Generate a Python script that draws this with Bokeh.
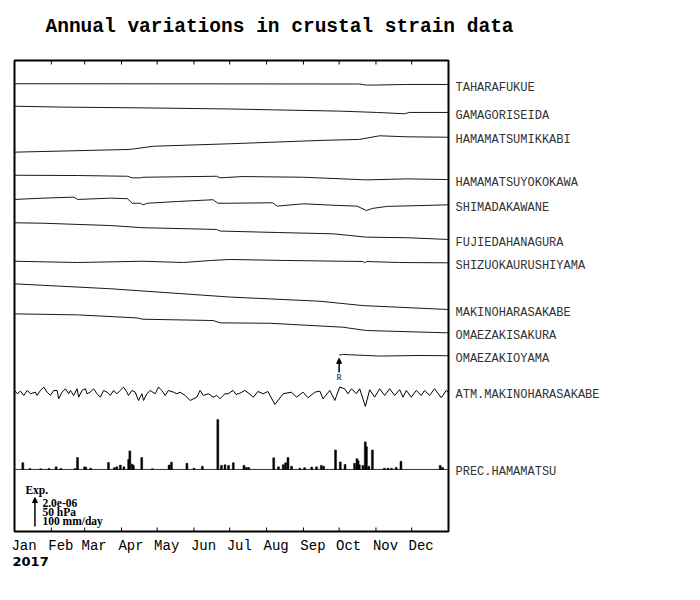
from bokeh.plotting import figure
from bokeh.models import Range1d, LinearAxis, FixedTicker, Title, Label, Arrow, NormalHead
from bokeh.embed import file_html
from bokeh.resources import INLINE

# ---------------- data ----------------
title_text = "Annual variations in crustal strain data"
year_text = "2017"
months = ["Jan", "Feb", "Mar", "Apr", "May", "Jun", "Jul", "Aug", "Sep", "Oct", "Nov", "Dec"]
month_starts = [0, 31, 59, 90, 120, 151, 181, 212, 243, 273, 304, 334]

stations = ["TAHARAFUKUE", "GAMAGORISEIDA", "HAMAMATSUMIKKABI", "HAMAMATSUYOKOKAWA",
            "SHIMADAKAWANE", "FUJIEDAHANAGURA", "SHIZUOKAURUSHIYAMA", "MAKINOHARASAKABE",
            "OMAEZAKISAKURA", "OMAEZAKIOYAMA"]
atm_name = "ATM.MAKINOHARASAKABE"
prec_name = "PREC.HAMAMATSU"

# strain (units of 1e-6, relative to first sample), day of year
tahara_days = [0, 181, 290, 296, 305, 330, 365]
tahara_vals = [0.00, -0.01, -0.02, -0.09, -0.09, -0.05, -0.05]

gamagori_days = [0, 39, 114, 181, 217, 274, 305, 328, 332, 365]
gamagori_vals = [0.00, -0.06, -0.12, -0.19, -0.25, -0.34, -0.43, -0.52, -0.43, -0.43]

mikkabi_days = [0, 97, 117, 181, 257, 290, 307, 330, 365]
mikkabi_vals = [0.00, 0.19, 0.41, 0.58, 0.81, 0.88, 1.13, 1.06, 1.03]

yokokawa_days = [0, 53, 95, 99, 106, 108, 170, 173, 192, 243, 296, 330, 365]
yokokawa_vals = [0.00, -0.02, -0.07, -0.18, -0.18, -0.14, -0.07, -0.18, -0.09, -0.14, -0.32, -0.25, -0.30]

shimada_days = [0, 24, 50, 53, 81, 95, 99, 106, 108, 112, 137, 167, 171, 181, 217, 221,
                243, 271, 288, 296, 301, 313, 365]
shimada_vals = [0.00, 0.09, 0.16, 0.00, 0.09, 0.05, -0.26, -0.26, -0.37, -0.26, -0.14, -0.02,
                -0.26, -0.26, -0.23, -0.46, -0.30, -0.41, -0.46, -0.76, -0.62, -0.48, -0.37]

fujieda_days = [0, 24, 81, 108, 145, 170, 173, 221, 268, 296, 330, 365]
fujieda_vals = [0.00, -0.03, -0.19, -0.34, -0.41, -0.46, -0.57, -0.67, -0.76, -0.99, -1.03, -1.15]

shizuoka_days = [0, 53, 108, 142, 165, 181, 229, 293, 294.5, 296, 324, 365]
shizuoka_vals = [0.00, -0.09, 0.00, -0.09, 0.05, 0.12, 0.05, -0.02, -0.11, -0.02, -0.09, -0.11]

makino_days = [0, 81, 181, 257, 293, 365]
makino_vals = [0.00, -0.34, -0.91, -1.20, -1.50, -1.77]

sakura_days = [0, 53, 103, 108, 167, 173, 215, 276, 296, 365]
sakura_vals = [0.00, -0.07, -0.28, -0.37, -0.46, -0.62, -0.65, -0.92, -1.15, -1.31]

oyama_days = [273, 276, 307, 341, 365]
oyama_vals = [0.00, 0.05, -0.06, -0.02, -0.04]
reset_day = 273
reset_text = "R"

# atmospheric pressure anomaly (hPa)
atm_days = [0, 2.3, 5.0, 7.8, 10.7, 13.4, 17.6, 19.0, 21.8, 24.6,
            27.4, 30.2, 33.0, 35.8, 37.2, 40.0, 42.8, 45.6, 47.0, 49.8,
            52.6, 54.0, 56.8, 59.6, 61.0, 63.8, 66.5, 69.4, 72.2, 74.9,
            77.8, 80.6, 83.3, 86.2, 88.9, 91.7, 94.6, 95.9, 98.8, 101.5,
            104.3, 107.2, 108.5, 111.3, 114.1, 118.3, 121.1, 123.9, 126.7, 129.5,
            133.7, 136.5, 139.3, 143.5, 147.7, 153.3, 156.1, 158.8, 163.0, 167.2,
            170.1, 172.8, 177.0, 179.8, 183.8, 186.3, 189.6, 193.8, 197.2, 200.8,
            204.7, 209.2, 213.1, 219.0, 226.0, 233.0, 237.2, 242.7, 246.9, 252.6,
            256.8, 259.5, 265.2, 269.4, 273.5, 277.7, 280.5, 283.4, 287.5, 290.3,
            295.1, 298.7, 302.9, 307.1, 311.3, 315.5, 319.7, 323.9, 326.7, 329.5,
            333.7, 337.9, 342.1, 344.9, 349.1, 353.3, 358.9, 363.1, 365]
atm_hpa = [5.2, -0.5, 4.0, -3.4, 5.2, -0.5, 2.2, -3.4, 5.2, 10.9,
           2.2, -3.4, 5.2, 5.2, -9.1, 2.2, 8.1, -0.5, 5.2, -3.4,
           8.1, -6.4, 5.2, 8.1, -0.5, 2.2, 8.1, -0.5, -6.4, 5.2,
           2.2, -3.4, 5.2, -0.5, 5.2, 10.9, 2.2, -3.4, 5.2, 2.2,
           -12.1, -0.5, -12.1, -0.5, 5.2, -0.5, 10.9, 5.2, -3.4, 5.2,
           2.2, -0.5, 2.2, -3.4, -12.1, -6.4, 5.2, -3.4, -0.5, -6.4,
           -3.4, -9.1, -0.5, -0.5, 5.2, -1.7, 0.5, 5.2, 0.0, -6.4,
           3.4, -0.5, 3.4, -19.0, -0.5, 2.2, -6.4, 2.2, -7.4, 2.2,
           4.0, -9.1, 5.2, -12.1, 10.9, 8.1, -0.5, 8.1, -0.5, 8.1,
           -22.4, 6.4, -6.4, 8.1, -3.4, 8.1, -3.4, 6.4, -6.4, 5.2,
           -6.4, 5.2, -3.4, 5.2, -3.4, 8.1, -7.4, 5.2, 1.7]

# daily precipitation (mm/day)
prec_days = [7, 13, 22, 29, 35, 39, 51, 53, 59, 60, 64, 79, 84, 86, 89, 92, 96, 97, 99, 100,
             107, 116, 130, 132, 145, 151, 158, 171, 174, 177, 180, 184, 193, 195, 197, 218,
             222, 226, 228, 230, 233, 240, 244, 250, 254, 258, 260, 270, 274, 278, 286, 288,
             289, 290, 293, 295, 296, 298, 301, 311, 314, 317, 321, 325, 358, 360]
prec_mm = [23, 3, 2, 3, 9, 3, 3, 41, 9, 7, 4, 24, 6, 9, 15, 9, 34, 64, 18, 13,
           41, 2, 15, 25, 21, 4, 11, 172, 14, 16, 14, 23, 14, 7, 7, 40,
           9, 16, 23, 41, 11, 4, 6, 8, 9, 14, 11, 67, 26, 17, 21, 37,
           30, 16, 14, 95, 78, 11, 67, 4, 4, 4, 7, 28, 14, 7]

scale_texts = ["2.0e-06", "50 hPa", "100 mm/day"]
exp_text = "Exp."
scale_strain = 2.0    # 2.0e-06 in 1e-6 units
scale_hpa = 50.0
scale_mm = 100.0

# ---------------- layout constants ----------------
PX_PER_UNIT = 14.5
FRAME_H = 471
Y_TOP = FRAME_H / PX_PER_UNIT
TICK_LEN = 4 / PX_PER_UNIT
trace_offsets = [30.88, 29.33, 26.16, 24.57, 22.90, 21.29, 18.64, 17.08, 15.01, 12.16]
atm_offset = 9.52
prec_offset = 4.28
hpa_to_unit = scale_strain / scale_hpa
mm_to_unit = scale_strain / scale_mm
LINE = "#1a1a1a"

p = figure(width=688, height=590, x_range=Range1d(0, 365), y_range=Range1d(0, Y_TOP),
           output_backend="svg", toolbar_location=None, x_axis_location=None, y_axis_location=None,
           min_border_left=14, min_border_right=240, min_border_top=60, min_border_bottom=59,
           title=title_text)
p.xgrid.grid_line_color = None
p.ygrid.grid_line_color = None
p.outline_line_color = "black"
p.outline_line_width = 2
p.background_fill_color = "white"
p.border_fill_color = "white"

p.title.align = "left"
p.title.offset = 31
p.title.text_font = "Liberation Mono"
p.title.text_font_style = "bold"
p.title.text_font_size = "19.5px"
p.title.text_color = "black"
p.title.standoff = 22

series = [(tahara_days, tahara_vals), (gamagori_days, gamagori_vals), (mikkabi_days, mikkabi_vals),
          (yokokawa_days, yokokawa_vals), (shimada_days, shimada_vals), (fujieda_days, fujieda_vals),
          (shizuoka_days, shizuoka_vals), (makino_days, makino_vals), (sakura_days, sakura_vals),
          (oyama_days, oyama_vals)]
label_y = []
for (d, v), off in zip(series, trace_offsets):
    p.line(d, [off + x for x in v], line_color=LINE, line_width=1)
    label_y.append(round(off + v[-1] - 0.22, 3))

# atmospheric pressure
p.line(atm_days, [atm_offset + h * hpa_to_unit for h in atm_hpa], line_color="black", line_width=1)
label_y.append(round(atm_offset - 0.1, 3))

# precipitation
p.line([0, 365], [prec_offset, prec_offset], line_color="#333333", line_width=1)
p.vbar(x=prec_days, width=1.6, bottom=prec_offset,
       top=[prec_offset + m * mm_to_unit for m in prec_mm], fill_color="black", line_color="black",
       line_width=0.5)
label_y.append(round(prec_offset - 0.15, 3))

# month tick marks (inside the frame, top and bottom)
inner = month_starts[1:]
p.segment(x0=inner, y0=[0] * len(inner), x1=inner, y1=[TICK_LEN] * len(inner),
          line_color="black", line_width=1)
p.segment(x0=inner, y0=[Y_TOP] * len(inner), x1=inner, y1=[Y_TOP - TICK_LEN] * len(inner),
          line_color="black", line_width=1)

# reset mark on OMAEZAKIOYAMA
oy_off = trace_offsets[-1]
p.add_layout(Arrow(end=NormalHead(size=5, fill_color="black", line_color="black"),
                   x_start=reset_day, y_start=oy_off - 1.2, x_end=reset_day, y_end=oy_off - 0.22,
                   line_color="black", line_width=1.5))
p.add_layout(Label(x=reset_day, y=oy_off - 1.55, text=reset_text, text_align="center",
                   text_baseline="middle", text_font="Liberation Serif", text_font_size="8px",
                   text_color="black"))

# scale legend
p.add_layout(Arrow(end=NormalHead(size=5, fill_color="black", line_color="black"),
                   x_start=17.2, y_start=0.34, x_end=17.2, y_end=0.34 + scale_strain,
                   line_color="black", line_width=1.5))
p.add_layout(Label(x=9.2, y=2.83, text=exp_text, text_baseline="middle", text_font="Liberation Serif",
                   text_font_style="bold", text_font_size="11.5px", text_color="black"))
for i, t in enumerate(scale_texts):
    p.add_layout(Label(x=23.5, y=2.0 - i * 0.65, text=t, text_baseline="middle",
                       text_font="Liberation Serif", text_font_style="bold", text_font_size="11.5px",
                       text_color="black"))

# axes
label_pos = [m + 8 for m in month_starts]
bottom = LinearAxis(ticker=FixedTicker(ticks=label_pos, minor_ticks=[]),
                    major_label_overrides={lp: m for lp, m in zip(label_pos, months)},
                    major_tick_in=0, major_tick_out=0, minor_tick_line_color=None, axis_line_color=None,
                    major_label_text_font="Liberation Mono", major_label_text_font_size="14px",
                    major_label_text_color="black", major_label_standoff=6)
p.add_layout(bottom, "below")

# invisible spacer axis between frame and title
top = LinearAxis(ticker=FixedTicker(ticks=[month_starts[0]], minor_ticks=[]), major_tick_in=0,
                 major_tick_out=12, major_tick_line_color=None, minor_tick_line_color=None,
                 axis_line_color=None, major_label_overrides={month_starts[0]: ""},
                 major_label_text_font_size="0px", major_label_standoff=0)
p.add_layout(top, "above")

right_names = stations + [atm_name, prec_name]
right = LinearAxis(ticker=FixedTicker(ticks=label_y, minor_ticks=[]),
                   major_label_overrides={y: n for y, n in zip(label_y, right_names)},
                   major_tick_in=0, major_tick_out=0, minor_tick_line_color=None,
                   axis_line_color=None, major_label_standoff=7,
                   major_label_text_font="Liberation Mono", major_label_text_font_size="12px",
                   major_label_text_color="#333333")
p.add_layout(right, "right")

p.add_layout(Title(text=year_text, align="left", offset=-2, standoff=-4, text_font="DejaVu Sans",
                   text_font_style="bold", text_font_size="13px", text_color="black"), "below")

open("out.html", "w").write(file_html(p, INLINE))
